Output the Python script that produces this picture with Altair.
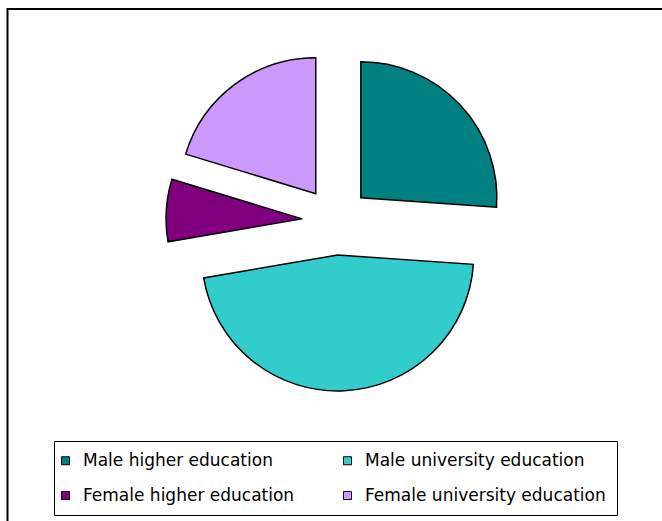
import math
import altair as alt
import pandas as pd

categories = [
    "Male higher education",
    "Male university education",
    "Female higher education",
    "Female university education",
]
shares = [26.1, 46.2, 7.4, 20.3]
colors = ["#008080", "#33CCCC", "#800080", "#CC99FF"]
order = [0, 1, 2, 3]

EXPLODE = 34
RADIUS = 136
CX, CY = 336, 221

total = sum(shares)
df = pd.DataFrame({"category": categories, "share": shares, "order": order})

theta_scale = alt.Scale(domain=[0, total], range=[0, 2 * math.pi])
color_enc = alt.Color(
    "category:N",
    scale=alt.Scale(domain=categories, range=colors),
    legend=alt.Legend(
        title=None,
        orient="none",
        legendX=54,
        legendY=441,
        columns=2,
        direction="horizontal",
        strokeColor="black",
        fillColor="white",
        padding=11,
        symbolType="square",
        symbolSize=64,
        symbolOffset=-8,
        symbolStrokeColor="black",
        symbolStrokeWidth=1,
        labelFont="DejaVu Sans",
        labelFontSize=17,
        labelColor="black",
        labelLimit=400,
        labelOffset=9,
        columnPadding=46,
        rowPadding=17,
    ),
)

base = alt.Chart(df).transform_window(
    end="sum(share)", sort=[alt.SortField("order")], frame=[None, 0]
).transform_calculate(start="datum.end - datum.share")

layers = []
cum = 0.0
for cat, val in zip(categories, shares):
    mid = (cum + val / 2) / total * 2 * math.pi
    cum += val
    dx = EXPLODE * math.sin(mid)
    dy = -EXPLODE * math.cos(mid)
    layers.append(
        base.transform_filter(alt.datum.category == cat)
        .mark_arc(radius=RADIUS, stroke="black", strokeWidth=1.5, xOffset=dx, yOffset=dy)
        .encode(
            theta=alt.Theta("start:Q", scale=theta_scale, stack=None),
            theta2="end:Q",
            color=color_enc,
            x=alt.value(CX),
            y=alt.value(CY),
        )
    )

border = alt.Chart(pd.DataFrame({"k": [0]})).mark_rect(
    filled=False, stroke="black", strokeWidth=2
).encode(x=alt.value(7.5), x2=alt.value(760), y=alt.value(9), y2=alt.value(700))

chart = alt.layer(border, *layers).properties(
    width=662,
    height=521,
    padding=0,
    autosize=alt.AutoSizeParams(type="none"),
).configure_view(stroke="transparent")

chart.save("out.html", embed_options={"renderer": "svg", "actions": False})
